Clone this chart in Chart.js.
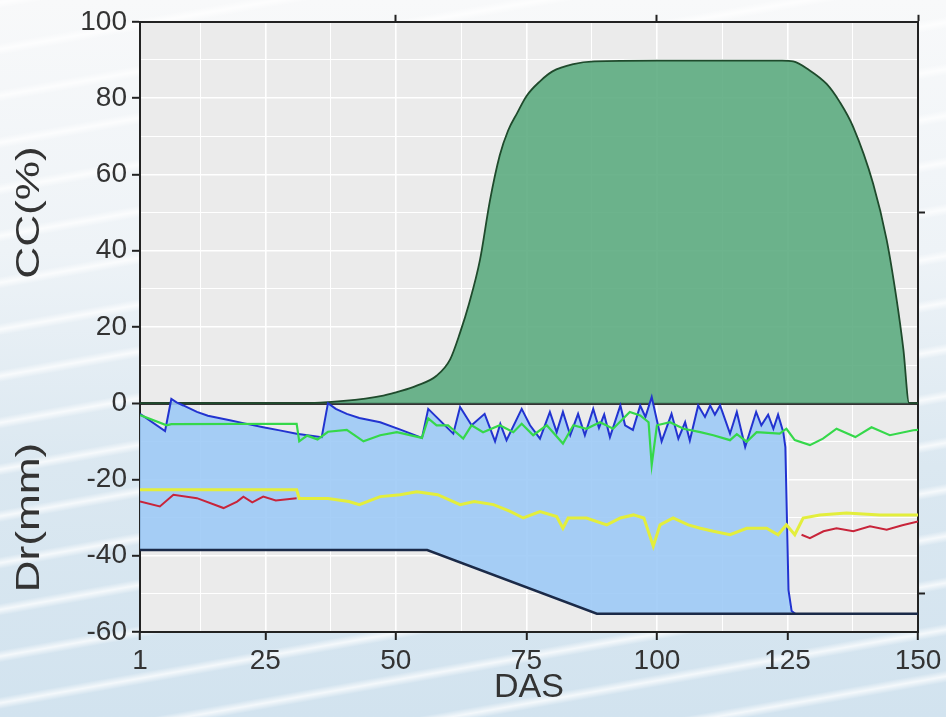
<!DOCTYPE html>
<html>
<head>
<meta charset="utf-8">
<script src="https://cdn.jsdelivr.net/npm/chart.js@4.4.1/dist/chart.umd.min.js"></script>
<style>
    html, body { margin: 0; padding: 0; }
    body {
        width: 946px; height: 717px; overflow: hidden;
        background:
            repeating-linear-gradient(350deg, rgba(255,255,255,0) 0px, rgba(255,255,255,0) 34px, rgba(255,255,255,0.75) 40px, rgba(255,255,255,0) 46px),
            linear-gradient(180deg, #f8f9fa 0%, #eef3f7 35%, #dbe8f1 65%, #d2e3ef 100%);
    }
    canvas { display: block; }
</style>
</head>
<body>
<canvas id="chart" width="946" height="717"></canvas>
<script>
// axis ticks
const xMajorTicks = [1, 25, 50, 75, 100, 125, 150];
const xMinorGrid = [12.5, 37.5, 62.5, 87.5, 112.5, 137.5];
const yMajorTicks = [-60, -40, -20, 0, 20, 40, 60, 80, 100];
const yMinorGrid = [-50, -30, -10, 10, 30, 50, 70, 90];
const topTicks = [50, 100, 150];
const rightTicks = [-50, 50];
const yTitles = ['CC(%)', 'Dr(mm)'];
const xTitle = 'DAS';

// canopy cover (%)
const ccDas = [1, 31.5, 40, 47.6, 51, 54, 57.8, 60.4, 62.3, 64, 66.1, 68, 69.9, 71.5, 73.2, 75, 77.6, 80, 84, 88, 100, 124, 126.1, 129, 132.5, 135, 137.6, 141.4, 144, 145.9, 147.2, 148.3, 150];
const ccValues = [0, 0, 0.6, 2, 3.2, 4.6, 7.2, 11.5, 18.5, 26, 37.5, 53, 65, 71.5, 76, 80.5, 84.4, 87, 88.9, 89.6, 89.8, 89.8, 89.6, 87.5, 83.7, 79, 72.4, 57.6, 42.8, 27.2, 14.1, 0, 0];

// root zone depletion (mm), blue
const drDas = [1, 5.8, 7, 8, 9.3, 11.9, 14, 18.2, 21, 24.6, 28, 31, 35.8, 37, 38.5, 40.6, 43, 47, 51, 55, 56.2, 61, 62.3, 64.5, 67, 69, 70, 71.2, 74.1, 75.7, 77.6, 79.5, 80.8, 82, 83.4, 84.9, 86.2, 87.8, 88.9, 89.9, 91, 93, 93.9, 95.4, 96.8, 97.8, 99, 100.9, 102.8, 104.1, 105.4, 106.3, 107.9, 109.2, 110.2, 111.1, 112.1, 114, 115.3, 116.9, 119, 120, 121.3, 122.3, 123.2, 124.2, 124.6, 125.2, 125.8, 126.5];
const drValues = [-2.8, -7.3, 1.1, 0.2, -0.6, -2.3, -3.3, -4.5, -5.3, -6.3, -7.2, -8, -8.9, 0, -1.5, -2.8, -3.9, -5, -7, -9.1, -1.5, -8, -1, -5.8, -2.8, -10, -5.4, -9.7, -1.5, -5.8, -9.3, -2.3, -7.6, -2.3, -8.4, -2.8, -8.4, -1.5, -6.5, -3, -8.9, -0.6, -5.8, -7, -0.6, -3.6, 1.6, -10, -2.8, -9.3, -5, -9.8, -0.6, -3.6, -0.6, -3, -0.6, -8, -2.3, -11.5, -2.3, -5.8, -3, -6.7, -3, -7.6, -11.5, -49, -54.5, -55.2];

// lower limit (mm), navy
const tawDas = [1, 56, 88.5, 150];
const tawValues = [-38.5, -38.5, -55.2, -55.2];

// green series
const greenDas = [1, 6.1, 7, 31, 31.5, 33, 35, 37, 40.6, 43.8, 47, 50.2, 55, 56.2, 57.8, 60, 62.9, 64.5, 66.7, 69.9, 72.5, 74.1, 76.3, 78.9, 82, 84, 86.5, 89.1, 91.6, 94.8, 96.8, 98.4, 99, 100, 102.5, 105.1, 108.3, 110.8, 114, 115.3, 117.2, 119.1, 121.3, 123.5, 124.8, 126.4, 129.3, 131.8, 134.4, 138, 141.1, 144.6, 149.1, 150];
const greenValues = [-3.1, -5.8, -5.5, -5.4, -10, -8.5, -9.5, -7.5, -7, -10, -8.4, -7.6, -9.1, -4, -5.8, -5.8, -9.3, -5.8, -7.6, -5.8, -7.6, -5.4, -8.4, -5.8, -10.6, -5.8, -6.7, -5, -6.7, -2.3, -3.2, -5, -16.2, -5.8, -5, -6.7, -7.6, -8.4, -9.7, -8.1, -10.1, -7.6, -7.8, -8, -6.7, -9.7, -11, -9.3, -6.7, -8.9, -6.3, -8.4, -7.1, -7];

// yellow series
const yellowDas = [1, 31, 31.5, 37, 41, 43, 47, 50.8, 54, 58, 62.3, 65, 68.7, 71.9, 74.4, 77.6, 80.8, 82, 83, 86.5, 90.4, 93, 95.5, 97.5, 99.3, 100.6, 103.1, 106, 108.3, 110.8, 114, 117.2, 121, 123.2, 124.8, 126.4, 128, 131.2, 136.3, 142.7, 150];
const yellowValues = [-22.7, -22.7, -25, -25, -25.8, -26.6, -24.5, -24, -23.2, -24, -26.6, -25.8, -26.6, -28.4, -30.1, -28.4, -29.7, -32.8, -30.1, -30.1, -31.9, -30.1, -29.3, -30.1, -37.5, -31.9, -30.1, -31.9, -32.8, -33.6, -34.5, -32.8, -32.8, -34.5, -31.9, -34.5, -30.1, -29.3, -28.8, -29.3, -29.3];

// red series (gap in the middle)
const redDas = [1, 4.8, 7.4, 11.9, 17, 19.6, 20.8, 22.5, 24.6, 27, 31, 79, 127.7, 129.3, 131.9, 134.4, 137.6, 140.8, 144, 147, 150];
const redValues = [-25.8, -27.1, -24, -24.9, -27.5, -25.8, -24.5, -26, -24.5, -25.5, -24.9, null, -34.5, -35.4, -33.6, -32.8, -33.6, -32.3, -33.2, -32, -31];

const pairs = (xs, ys) => xs.map((x, i) => ({ x, y: ys[i] }));

const FONT = "'Liberation Sans', Arial, sans-serif";
const TEXT = '#333';
const AXIS = '#222';
Chart.defaults.font.family = FONT;

// grey panel behind the plot
const panelBg = {
    id: 'panelBg',
    beforeDraw(chart) {
        const { ctx, chartArea: a } = chart;
        ctx.save();
        ctx.fillStyle = '#ebebeb';
        ctx.fillRect(a.left, a.top, a.right - a.left, a.bottom - a.top);
        ctx.restore();
    }
};

// two titles on the one y axis
const axisTitles = {
    id: 'axisTitles',
    afterDraw(chart) {
        const { ctx } = chart;
        const y = chart.scales.y;
        const centers = [50, -30];
        ctx.save();
        ctx.font = `34px ${FONT}`;
        ctx.fillStyle = TEXT;
        ctx.textAlign = 'center';
        ctx.textBaseline = 'middle';
        yTitles.forEach((t, i) => {
            ctx.save();
            ctx.translate(30, y.getPixelForValue(centers[i]));
            ctx.rotate(-Math.PI / 2);
            ctx.scale(1.3, 1);
            ctx.fillText(t, 0, 0);
            ctx.restore();
        });
        ctx.restore();
    }
};

const isMajorX = v => xMajorTicks.includes(v);
const isMajorY = v => yMajorTicks.includes(v);

new Chart(document.getElementById('chart').getContext('2d'), {
    type: 'line',
    data: {
        datasets: [
            {
                label: 'CC', data: pairs(ccDas, ccValues), order: 7,
                borderColor: '#1f4a2c', borderWidth: 1.8,
                backgroundColor: 'rgba(93,172,129,0.9)', fill: 'origin',
                cubicInterpolationMode: 'monotone', pointRadius: 0
            },
            {
                label: 'TAW', data: pairs(tawDas, tawValues), order: 5,
                borderColor: '#1b2a48', borderWidth: 2.4, pointRadius: 0, fill: false
            },
            {
                label: 'Dr', data: pairs(drDas, drValues), order: 6,
                borderColor: '#2233d0', borderWidth: 2,
                backgroundColor: 'rgba(157,202,246,0.9)', fill: { target: 1 },
                pointRadius: 0
            },
            {
                label: 'yellow', data: pairs(yellowDas, yellowValues), order: 4,
                borderColor: '#e3ee3c', borderWidth: 3, pointRadius: 0, fill: false
            },
            {
                label: 'red', data: pairs(redDas, redValues), order: 3,
                borderColor: '#c8243a', borderWidth: 2, pointRadius: 0, fill: false, spanGaps: false
            },
            {
                label: 'green', data: pairs(greenDas, greenValues), order: 2,
                borderColor: '#35d84a', borderWidth: 2.2, pointRadius: 0, fill: false
            }
        ]
    },
    options: {
        responsive: false,
        animation: false,
        layout: { padding: { top: 18, right: 28, left: 0, bottom: 0 } },
        plugins: { legend: { display: false }, tooltip: { enabled: false } },
        scales: {
            x: {
                type: 'linear', position: 'bottom', min: 1, max: 150,
                afterBuildTicks: s => { s.ticks = [...xMajorTicks, ...xMinorGrid].sort((a, b) => a - b).map(v => ({ value: v })); },
                afterFit: s => { s.height = 85; },
                ticks: {
                    autoSkip: false, maxRotation: 0, padding: 4, color: TEXT,
                    font: { size: 28 },
                    callback: v => isMajorX(v) ? String(v) : ''
                },
                grid: {
                    color: c => (c.tick && (c.tick.value === 1 || c.tick.value === 150)) ? 'rgba(0,0,0,0)' : '#ffffff',
                    lineWidth: c => (c.tick && isMajorX(c.tick.value)) ? 1.6 : 1,
                    tickLength: 8, tickWidth: 2,
                    tickColor: c => (c.tick && isMajorX(c.tick.value)) ? AXIS : 'rgba(0,0,0,0)'
                },
                border: { color: AXIS, width: 2 },
                title: { display: true, text: xTitle, color: TEXT, font: { size: 34 }, padding: { top: 0, bottom: 9 } }
            },
            x2: {
                type: 'linear', position: 'top', min: 1, max: 150,
                afterBuildTicks: s => { s.ticks = topTicks.map(v => ({ value: v })); },
                afterFit: s => { s.height = 0; },
                ticks: { callback: () => '', padding: 0 },
                grid: { drawOnChartArea: false, tickLength: 7, tickWidth: 2, tickColor: AXIS },
                border: { color: AXIS, width: 2 }
            },
            y: {
                type: 'linear', position: 'left', min: -60, max: 100,
                afterBuildTicks: s => { s.ticks = [...yMajorTicks, ...yMinorGrid].sort((a, b) => a - b).map(v => ({ value: v })); },
                afterFit: s => { s.width = 140; },
                ticks: {
                    autoSkip: false, padding: 5, color: TEXT,
                    font: { size: 28 },
                    callback: v => isMajorY(v) ? String(v) : ''
                },
                grid: {
                    color: c => {
                        const v = c.tick ? c.tick.value : null;
                        if (v === 0) return '#333';
                        if (v === -60 || v === 100) return 'rgba(0,0,0,0)';
                        return '#ffffff';
                    },
                    lineWidth: c => {
                        const v = c.tick ? c.tick.value : null;
                        if (v === 0) return 3;
                        return isMajorY(v) ? 1.6 : 1;
                    },
                    tickLength: 8, tickWidth: 2,
                    tickColor: c => (c.tick && isMajorY(c.tick.value)) ? AXIS : 'rgba(0,0,0,0)'
                },
                border: { color: AXIS, width: 2 }
            },
            y2: {
                type: 'linear', position: 'right', min: -60, max: 100,
                afterBuildTicks: s => { s.ticks = rightTicks.map(v => ({ value: v })); },
                afterFit: s => { s.width = 0; },
                ticks: { callback: () => '', padding: 0 },
                grid: { drawOnChartArea: false, tickLength: 7, tickWidth: 2, tickColor: AXIS },
                border: { color: AXIS, width: 2 }
            }
        }
    },
    plugins: [panelBg, axisTitles]
});
</script>
</body>
</html>
